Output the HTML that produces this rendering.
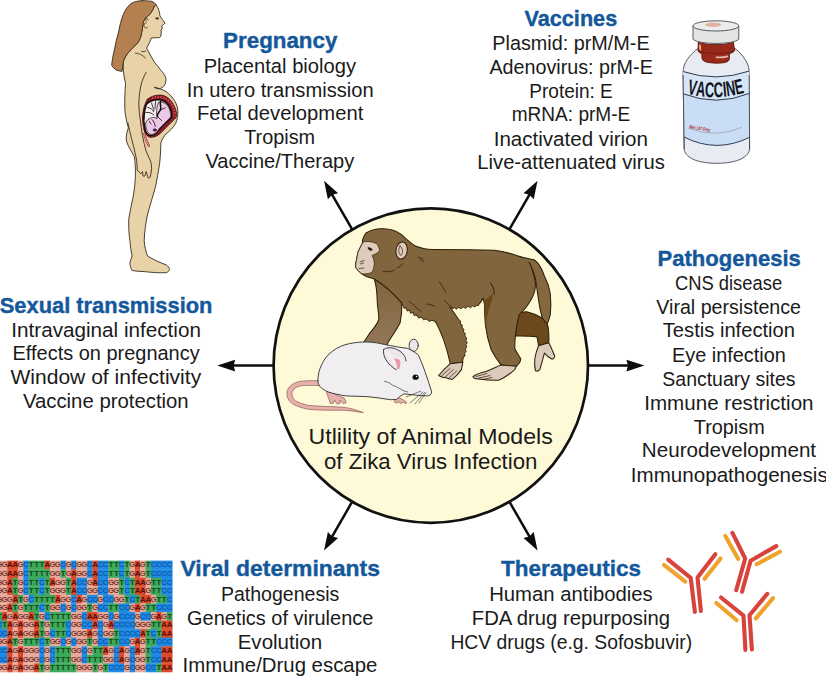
<!DOCTYPE html>
<html><head><meta charset="utf-8"><title>Utility of Animal Models of Zika Virus Infection</title>
<style>
html,body{margin:0;padding:0;background:#fff;}
body{width:826px;height:678px;overflow:hidden;font-family:"Liberation Sans",sans-serif;}
svg{display:block;}
svg text{font-family:"Liberation Sans",sans-serif;}
</style></head><body>
<svg width="826" height="678" viewBox="0 0 826 678">
<rect width="826" height="678" fill="#ffffff"/>
<!-- arrows -->
<g transform="translate(430.8 365.6) rotate(0)"><line x1="157.2" y1="0" x2="198" y2="0" stroke="#0c0c0c" stroke-width="2.5"/><path d="M213.5 0 L195.6 -5.9 L197.2 0 L195.6 5.9 Z" fill="#0c0c0c"/></g>
<g transform="translate(430.8 365.6) rotate(60)"><line x1="157.2" y1="0" x2="198" y2="0" stroke="#0c0c0c" stroke-width="2.5"/><path d="M213.5 0 L195.6 -5.9 L197.2 0 L195.6 5.9 Z" fill="#0c0c0c"/></g>
<g transform="translate(430.8 365.6) rotate(120)"><line x1="157.2" y1="0" x2="198" y2="0" stroke="#0c0c0c" stroke-width="2.5"/><path d="M213.5 0 L195.6 -5.9 L197.2 0 L195.6 5.9 Z" fill="#0c0c0c"/></g>
<g transform="translate(430.8 365.6) rotate(180)"><line x1="157.2" y1="0" x2="198" y2="0" stroke="#0c0c0c" stroke-width="2.5"/><path d="M213.5 0 L195.6 -5.9 L197.2 0 L195.6 5.9 Z" fill="#0c0c0c"/></g>
<g transform="translate(430.8 365.6) rotate(240)"><line x1="157.2" y1="0" x2="198" y2="0" stroke="#0c0c0c" stroke-width="2.5"/><path d="M213.5 0 L195.6 -5.9 L197.2 0 L195.6 5.9 Z" fill="#0c0c0c"/></g>
<g transform="translate(430.8 365.6) rotate(300)"><line x1="157.2" y1="0" x2="198" y2="0" stroke="#0c0c0c" stroke-width="2.5"/><path d="M213.5 0 L195.6 -5.9 L197.2 0 L195.6 5.9 Z" fill="#0c0c0c"/></g>
<!-- central circle -->
<circle cx="430.8" cy="365.6" r="157.2" fill="#fef9d6" stroke="#111" stroke-width="2.7"/>
<!-- monkey -->
<defs><linearGradient id="armg" x1="0" y1="0" x2="0" y2="1"><stop offset="0" stop-color="#80653d"/><stop offset="1" stop-color="#93795a"/></linearGradient></defs>
<g stroke="#2e1f0c" stroke-width="1.05" stroke-linejoin="round" stroke-linecap="round">
<path fill="url(#armg)" d="M374.3,279 C375.5,283 376,286 376.5,289.3 C377,295 377.2,300 377.4,304.7 C378,310 379,315 378.8,319.5 C377,325 373,329 370,332.8 L360,348 L386,352 L387.7,343.1 C392,336 397,329 400.2,322.4 C401.5,316 402,310 401.7,304.7 L401.6,302.6 C395,293 386,285 374.3,279Z"/>
<path fill="#6c491c" d="M516.3,314.7 C520,312.5 523,311.5 526.7,311.8 C532,313 537,315 541.4,317.7 C545,320 547,323 548,326.5 C549,332 549,338 548.8,342.8 L538.5,345.7 C538,342 537.5,339.5 537,336.9 C530,336 523,336 516.3,336.1 L512,336 L512,316 Z"/>
<path fill="#dccabd" d="M538.5,345.7 L548.8,342.8 C551,347 553,352 554.7,356 C554.5,358 553,359.3 551.7,359 C549,357.5 546.5,355.5 544.4,353.1 C543,358.5 541.5,364 539.9,369.3 C538.5,371 536.5,371.3 535.5,370.8 C534.5,367 534.5,363 534.8,359 C535.5,354 537,349.5 538.5,345.7Z"/>
<path fill="#80653d" d="M379.5,228.8 C390,228 397,231 401.6,234.7 C406,239 410,243 414.9,245.8 C420,248 426,249.5 432.6,249.5 L470,249.8 L494.2,250.2 C505,251.5 513,254 520.8,256.9 C524,258 527.5,259.5 529.6,262.8 C530.8,264.8 531.5,266.8 531.8,268.7 C533.5,274 535.5,279 535.5,284.9 C535.5,289 534.5,293 532.6,296.7 C530.5,301 528,305 525.2,308.5 C523,311 521,313 519.3,314.7 C517.5,321 516.3,327 515.6,333.9 C515,339 514.5,344 514.9,348.7 C516.5,352.5 519,355.5 520.8,359 C520.5,362 518.5,364.5 516.3,366.3 L500.9,364.9 C497,360 494,355 491.3,350.1 C488.5,342 486.5,334 485.4,325 C484.8,317 484.5,311 484.6,305 L483.2,298.1 C481.5,301 480,303.5 478,305.5 C472,304.5 465,304.3 460,305.5 C456,306.5 453,307.5 449.6,307 C453,311 456,315 458.5,319.5 C462,326.5 464.3,334 465.2,341.2 C465,348 463.6,355 462.4,362.2 L450.3,363.7 C448.5,355.5 446.5,348 443.7,340.1 C441,333 438.5,326.5 434.9,321 C429.5,319.8 424,318.5 418.7,316.5 C412.5,313 407,309 402.4,304.7 L401.6,302.6 C393,293 384,285 374.3,279 L372.1,278.2 C368,277.5 364.5,276 361.8,273.8 C359.5,272 357.5,270 356,268 C355.5,265 355.8,262 356.6,259.8 C357,257 357.5,254.5 358,252 C359.5,249 361,246 362.5,243 L362.5,239.9 C363.5,237 364.5,235 366,233 C370,230.5 374.5,229.2 379.5,228.8Z"/>
<path fill="#80653d" stroke="#80653d" stroke-width="0.6" d="M402.6,304.9 L404,308.3 L406.2,307.8 L407,311 L409.6,310 L410.5,313.2 L413,312.3 L414.2,315.6 L416.8,314.8 L418.5,318 L421.5,317 L423.5,319.8 L426.5,318.8 L429,321.5 L432,320.2 L434.9,321.2 L436,316 L419,311 L404,301 Z"/>
<path fill="none" stroke-width="0.7" d="M402.6,304.9 L404,308.3 L406.2,307.8 L407,311 L409.6,310 L410.5,313.2 L413,312.3 L414.2,315.6 L416.8,314.8 L418.5,318 L421.5,317 L423.5,319.8 L426.5,318.8 L429,321.5 L432,320.2 L434.9,321.2"/>
<path fill="#80653d" stroke="#80653d" stroke-width="0.6" d="M449.8,306.9 L452.5,309 L454,307.2 L456.5,309.3 L458.5,307.2 L461,308.9 L463,306.8 L465.5,308.3 L468,306.2 L470.5,307.7 L472.5,305.8 L475,307 L477,305 L478.2,305.6 L479,300 L449,301 Z"/>
<path fill="none" stroke-width="0.7" d="M449.8,306.9 L452.5,309 L454,307.2 L456.5,309.3 L458.5,307.2 L461,308.9 L463,306.8 L465.5,308.3 L468,306.2 L470.5,307.7 L472.5,305.8 L475,307 L477,305 L478.2,305.6"/>
<path fill="#80653d" stroke="#80653d" stroke-width="0.6" d="M458.6,319.6 L460.6,321 L460.2,323.5 L462.3,325 L461.8,327.6 L463.8,329.2 L463.4,331.8 L465.3,333.5 L464.8,336 L466.6,338 L465.9,340.5 L467.3,342.6 L465.9,344.5 L466.8,347 L465.4,349 L466,351.5 L464.6,353.5 L465,356 L463.2,357.5 L459,356 L460,336 L456,320 Z"/>
<path fill="none" stroke-width="0.7" d="M458.6,319.6 L460.6,321 L460.2,323.5 L462.3,325 L461.8,327.6 L463.8,329.2 L463.4,331.8 L465.3,333.5 L464.8,336 L466.6,338 L465.9,340.5 L467.3,342.6 L465.9,344.5 L466.8,347 L465.4,349 L466,351.5 L464.6,353.5 L465,356 L463.2,357.5"/>
<path fill="#6c491c" stroke="none" d="M485,300 C488,297.5 491,295.5 492.8,293.5 C493,298 491,303 489.3,308 C487.5,314 486.5,320 486.3,326 L485.4,325 C484.8,317 484.5,311 484.6,305 Z"/>
<path fill="none" d="M490.5,283 C493,286 494.6,290 494.2,294.5"/>
<path fill="#85683f" stroke="none" d="M519,256.3 C525,258 530,258.8 534,259.8 C539,263 542,269 544.4,276 C547.5,282 549.5,288 550.3,293.7 C551,301 551,308 550.3,314.7 C549.5,318 548.5,321 547.3,323.6 C545,322 543.5,320 542.1,317.7 C540.5,311.5 539.2,305.5 538.5,299.6 C537.5,292.5 536.5,285.5 535.5,279 C534,273 532,267.5 529.6,262.8Z"/>
<path fill="none" d="M519,256.3 C525,258 530,258.8 534,259.8 C539,263 542,269 544.4,276 C547.5,282 549.5,288 550.3,293.7 C551,301 551,308 550.3,314.7 C549.5,318 548.5,321 547.3,323.6 C545,322 543.5,320 542.1,317.7 C540.5,311.5 539.2,305.5 538.5,299.6 C537.5,292.5 536.5,285.5 535.5,279 C534,273 532,267.5 529.6,262.8"/>
<path fill="#dccabd" d="M500.9,364.9 C496,367 491,369.5 486,371.5 C481,372.5 476.5,374 472.9,376.7 C474,378.5 476,379.2 478.5,379 C485,380 492,380.5 498.7,380.3 C505,377.5 510.5,373.5 514.9,369.3 L516.3,366.3 Z"/>
<path fill="none" stroke-width="0.7" d="M476,376.5 L487,373.5 M478.5,378.2 L490,375.5 M483,379.5 L492,377.5"/>
<path fill="#dccabd" d="M450.3,363.7 C446,367.5 442,371.5 438.6,375.5 C441,377 444,377.8 447,378 C449,379 451,379.5 452.6,379.2 C456,376.5 459,373 461.4,369.6 L462.9,362.2 Z"/>
<path fill="none" stroke-width="0.7" d="M441.5,376 L450,368.5 M445,377.2 L453.5,369.5 M449,378.2 L456.5,371"/>
<path fill="#dfcbbb" stroke-width="0.7" d="M364.5,241.6 C368.5,241 373,242 376.5,243.6 C378.5,246 379.5,248.5 379.5,251 C377.5,253 375,254.5 372.1,255.4 C373.5,258 374.3,261 374.3,264.2 C374,267 373.3,269.8 372.1,272.3 C369,273.8 365,274.2 361.8,273.8 C359.5,272 357.5,270 356,268 C355.5,265 355.8,262 356.6,259.8 C357,257 357.5,254.5 358,252 C359.5,249 361,246 362.5,243 Z"/>
<ellipse cx="401.6" cy="250.5" rx="5.6" ry="8.6" transform="rotate(8 401.6 250.5)" fill="#dfcbbb"/>
<path fill="none" stroke-width="0.7" d="M400,246 C398,250 398.5,254 401,255.5 C403,253 403.5,249 400,246Z"/>
<path fill="#2a1a0a" stroke="none" d="M367.5,247.5 C369.5,247 371.5,248 372.8,250 C371,251.3 368.8,251 367.5,247.5Z"/>
<path fill="none" stroke-width="0.7" d="M360,262 L364,260.5 M360.5,264 L363.5,263 M359,268.5 L364,268"/>
<path fill="none" stroke-width="0.8" d="M418,257 l5,2.2 M420,259.5 l4,2.5 M383.2,271.6 C388,272 392,271.5 394.2,270.1 M397,268 C399.5,267 401.5,265.5 403.1,263.5 M439.2,281.9 C441.5,285 444,288.5 445.8,292.2 M444.4,300.4 C447,303 450,306 453.2,308.5 M426.7,304 C429.5,304.2 432.5,305 434.8,306.2 M409,301.1 C413,304.5 417,308 420.8,311.4"/>
</g>
<!-- mouse -->
<g stroke="#383838" stroke-width="0.95" stroke-linejoin="round" stroke-linecap="round">
<path fill="#e8b0aa" stroke="#8a5a55" stroke-width="0.7" d="M318.5,381 C312,380.5 305,380.6 299.4,381.5 C293,383 288.3,386.5 287,391.5 C286.3,397 288.8,401.5 293,404 C298,407 304,408.5 309.1,409.3 C320,410.5 332,410.2 343.9,410.2 C350.5,410.6 357,411.6 363.3,412.6 C357,410 350.5,408.3 343.9,407.3 C332,406.5 320,406.5 309.1,405.5 C304,404.5 299,403 295.5,400.8 C292.3,398 291.3,394.5 292.3,391.5 C294,388 297.5,386.3 301,385.8 C307,385.2 313,385.3 318.8,385.6Z"/>
<ellipse cx="413.7" cy="345.3" rx="4.6" ry="6" fill="#ebe6ea"/>
<path fill="#e8b0aa" stroke="#8a5a55" stroke-width="0.7" d="M326.5,392 C328,396 329,400 330.4,403.8 L333.5,403 L334.5,400 L337,404 L340,403.5 L340,400 L343.5,403.8 L346.2,402.5 C345.5,400.5 344.8,399 343.9,397.8 C340,396.5 336,395 333,393Z"/>
<path fill="#e8b0aa" stroke="#8a5a55" stroke-width="0.7" d="M396,398.5 C395,400 394.3,401 394.3,401.9 L397,403.2 L399,401.5 L400.5,403.8 L403,402.2 L405.9,403.8 L406.5,402 C404.5,400.5 402,399 399.5,398Z"/>
<path fill="#f0eef1" d="M317.8,380.4 C318,374 319.5,369 321.6,364.9 C324,359 328,354.5 332.3,351.3 C338,347 343,345 349.7,343.6 C356,342.3 361,342 367.2,342 C374,342 379,343.3 384.6,344.5 C393,346 400,347.5 407.8,348.4 C411,350 415,352 418.5,355.2 C421,361 423.5,367 425.3,372.6 C427.5,379 430,386 431.7,392 C431.5,394.5 429.5,395.9 427.2,395.9 C420,396 412,394.5 404,393.9 C401,395.5 398.5,397.5 396.5,399.5 L390.4,399.7 C383,398.5 376,397.5 369.1,396.8 C361,396.3 353,396.2 345.9,395.9 C339.5,395 333.5,393.7 328.4,392 C324.5,390.5 321.5,388.5 319.7,386.2 C318.5,384.5 317.9,382.5 317.8,380.4Z"/>
<path fill="#eee6ea" d="M383.6,349.4 C386,347.5 390,347.3 394.3,348.4 C398.5,349.8 402,352.2 404,355.2 C405.3,357.2 406,359.3 406,361 M383.6,349.4 C383.2,353 383.9,356.2 385.6,359.1 C388,363.5 391.8,367.2 396.2,369.7"/>
<path fill="#e89aa8" stroke="none" d="M394,359 C396,358 399,359 400.3,361 C400.5,364 400,367 399.3,369.3 C398.5,369.5 397.5,369.2 397,368.8 C397.3,365.5 396.3,362 394,359Z"/>
<ellipse cx="415.6" cy="377.2" rx="3.1" ry="2.6" fill="#111" stroke="none"/><circle cx="416.6" cy="376.4" r="0.7" fill="#fff" stroke="none"/>
<path fill="none" stroke-width="0.7" d="M384.6,381.3 C388,381.8 390.5,383.5 392.5,385.2 C396,386.5 400,388.5 403,390.5 C405,391.3 406.5,391.8 407.8,392"/>
<path fill="none" stroke="#333" stroke-width="0.6" d="M423,392 L410,403 M424.5,392.5 L415,404 M426,392.5 L419,403 M421,391 L406,397"/>
</g>
<!-- woman -->
<g stroke="#3a2a1a" stroke-width="0.9" stroke-linejoin="round" stroke-linecap="round">
<path fill="#e8d2a8" d="M156.2,5 C157.5,6.8 158.5,8.6 158.9,10.6 C159.5,12.3 159.9,14 159.9,15.9 C161.6,18.4 163.4,20.8 164.9,23.2 C163.9,24.4 162.7,25.4 161.5,26.2 L162.5,27.9 L161.2,29.9 C161.3,32 161.2,34 160.9,35.8 C160.6,36.6 160.2,37.2 159.6,37.5 C157,37.9 154.3,37.9 151.6,37.8 C150.5,40.3 149.3,42.8 148.3,45 C147.6,46 147,47 146.5,48.1 C149,52.7 151.6,57.3 154.2,61.9 C156.5,64.5 158.5,67.5 160.9,70.3 C163,72.5 164.8,75 165.8,77.7 C166.3,80.5 165.8,83 164.6,85.1 C163.2,87 161.5,88.2 159.4,88.8 C157.5,88.9 155.8,88.3 154.3,87.3 C158.5,88 162.5,89.5 166.1,91.7 C169.8,94.3 172.8,97.5 174.9,101.3 C176.8,104.5 177.8,108 177.9,111.6 C177.9,115.8 177.2,119.8 175.7,123.4 C173.2,127.5 170,131 166.1,133.8 C163.8,136.5 162,139.5 160.9,142.6 C160.7,149.5 160.5,156.5 159.7,163.2 C158.5,171.5 157,179.5 155.3,187.5 C152.8,196.5 150,205.3 147.6,214.1 C145.8,223 144.5,231.8 144.2,240.6 C144.5,246 145.8,251.2 147.6,256.1 C153.5,259.8 160,262.5 166.4,265 C168,266.2 169.2,267.7 169.7,269.4 C169,271 167.8,272.2 166.4,272.7 C159,273 151.5,272.4 144.2,271.6 C140,271.5 136,271.2 132.1,270.5 C130.8,268 130,265.5 129.9,262.7 C130.5,260.5 131.3,258.3 132.1,256.1 C131,251 130.2,246 129.9,240.6 C128.8,233.5 128.5,226 128.8,218.5 C130,211 131.8,203.8 133.2,196.4 C134.5,189 135.3,181.6 135.4,174.2 C135.5,168 135.2,162 134.3,156.5 C131.5,151.5 128.2,146.8 126.5,141.1 C125.8,137 126.5,133 128.4,127.9 C126.5,121.5 125.2,115 124.8,108.7 C124.5,100 125,92 125.5,83.6 C124.5,79 123.8,74.8 123.3,70.3 L123.3,61.9 C124.5,58 126.3,54.8 128.8,52 C131.5,48.8 134.5,46 137.6,43.1 C139.8,40 140.9,36.7 141.5,33.2 C142.4,29.5 142.8,25.8 143.2,22.1 C144.8,19 147,16.5 149.8,14.4 C151.8,12 153,9.3 154.2,6.6 Z"/>
<path fill="#b5804f" d="M142.1,0.7 C137,0.9 134,1.8 131,3.6 C127,7 124.8,10.5 123.3,14.4 C121,20 119.8,25.5 118.8,31 C117,37.5 115.5,43.5 114.4,49.8 C113,55 112.2,60 111.7,65.2 C113,67.5 114.8,69.2 116.6,70.2 C118.5,70.9 120.4,71.2 122.2,71.3 C122.3,68 122.6,65 123.3,61.9 C124.5,58 126.3,54.8 128.8,52 C131.5,48.8 134.5,46 137.6,43.1 C139.8,40 140.9,36.7 141.5,33.2 C142.4,29.5 142.8,25.8 143.2,22.1 C144.8,19 147,16.5 149.8,14.4 C151.8,12 153,9.3 154.2,6.6 L155.9,4.4 C155,3 153.7,2 152,1.4 C149,0.9 146,0.7 142.1,0.7Z"/>
<path fill="none" stroke-width="0.8" d="M146.2,22.5 C144.3,22.8 143.6,24.8 144.2,26.6 C144.8,28 146.2,28.4 147.3,27.6"/>
<ellipse cx="157.2" cy="18.4" rx="1.8" ry="1.15" fill="#4a3218" stroke="none" transform="rotate(8 157.2 18.4)"/>
<path fill="none" stroke="#5a3a1c" stroke-width="0.9" d="M145.5,17.6 L148.2,19.6 M144.5,19.2 L146.6,20.8"/>
<path fill="none" stroke-width="0.8" d="M135.4,53.1 C138,53.3 140.3,54 142.1,55.3 C143.4,56.1 144.5,57 145.4,58 M141.5,51.6 L145.5,51.3"/>
<path fill="none" d="M146.1,72.5 C143.8,76.5 142,80.6 141,85.1 C139.6,91.5 138.9,98 138.8,104.3 C138.9,110 139.5,115 140.3,120 C141,125 141.7,130.5 142.4,135.5 C143.5,141 144.7,146 146,151 C147.5,154.5 149.3,158 150.6,161.3 C151.3,163.5 151.7,166 151.6,168.5 C151.4,171.5 150.8,174.5 150.1,177.3 C149.4,178 148.6,178.1 148,177.8 C147.5,175.5 146.8,173.5 146,171.6 C145.8,173 145.4,174.5 144.9,175.8 C144.3,176.3 143.6,176.3 143,175.9 C142.9,174.5 142.7,173 142.4,171.6 C141.9,172.5 141.4,173.2 140.8,173.7 C139.5,172.8 138.3,171.5 137.2,170.1 C137.2,167 137,164 136.7,161.3 C136.4,159 136,157 135.6,155.1 C134.5,149.5 133,144 131.5,138.6 C130.3,133.5 129,128 127.9,123.1"/>
<path fill="#8c1c24" stroke="#3a0c0c" stroke-width="0.8" d="M147.3,99.3 C150.5,96.5 155.5,94.8 160.5,95.1 C166.5,95.5 171.5,99.5 174.6,106.9 C176,110 176.8,113 176.5,115.4 C176.3,117 175.6,118.3 174.6,119.1 L159.6,134 C157,136.5 153,137.6 149.5,137.2 C146,136 144,131.5 143.5,127.6 C142.8,123.5 142.3,120 142.5,116.3 C143,110 144.5,104 147.3,99.3Z"/>
<path fill="none" stroke="#d8485a" stroke-width="2.2" stroke-dasharray="1.3 1.5" stroke-linecap="butt" d="M152,98 C157,96.3 163,96.6 167.5,99.6 C171.5,102.8 174,107.5 174.6,113 C174.7,114.8 174.4,116.3 173.8,117.5"/>
<path fill="#f2eeee" stroke="#120808" stroke-width="1.5" d="M146.3,104.5 C149.5,100.8 154.5,99.3 159.5,99.8 C165,100.5 168.8,104 170.6,109.5 C171.6,112.5 171.9,115 171.6,117 L158.5,130 C157,133.5 153.5,135.8 150.5,135.5 C147,134.8 145,131 144.8,127 C144.2,123.5 143.8,120 144,116.5 C144.3,112 145,108 146.3,104.5Z"/>
<path fill="#e6efc6" stroke="none" d="M144.5,119.5 L147.5,119 L148.5,125 L145.2,126.5Z"/>
<path fill="#ecc8e6" stroke="#20101a" stroke-width="0.7" d="M148.6,119.2 C151,117 154.5,117 157,118.6 C156.2,113.5 156.2,107.5 158.5,102.2 C163.5,101.2 168,104.5 169.8,110 C170.8,113.5 170.8,116.2 170.2,117.6 L159,128.8 C157.5,132.5 153.5,134.8 150.5,134.3 C147.3,133.3 145.6,128 145.7,123.2 C146.2,121.5 147.2,120.2 148.6,119.2Z"/>
<path fill="none" stroke="#120808" stroke-width="1.5" d="M160.5,101.5 C159.5,104.5 161.8,107 160.3,110 C159.3,112.3 157,113.5 157.5,116.5"/>
<path fill="none" stroke="#120808" stroke-width="0.8" d="M151.5,103 L154,110.5 M155.5,101.5 L155,108.5 M148,107.5 C150.5,108 152.5,109.3 153.5,111.5 M146,112.5 C149,112 152,113 153.8,115 M160.3,110 L165.3,107.8 M158,117 L161.5,120.5 M152,119.5 C154,121.5 155,124 155.2,126.5 M149.5,121.5 L151,124"/>
<ellipse cx="154.8" cy="130" rx="1.7" ry="1.3" fill="#4a2a5a" stroke="#20101a" stroke-width="0.5"/>
<path fill="none" stroke="#7a1c1c" stroke-width="0.7" d="M173.4,118.8 L159.3,132.6"/>
<path fill="none" stroke="#a84040" stroke-width="2.4" d="M144.2,134 C145.2,138 146.8,142 148.9,145.8"/>
<path fill="none" stroke="#f0b0b0" stroke-width="1" stroke-dasharray="0.9 1.1" d="M144.2,134 C145.2,138 146.8,142 148.9,145.8"/>
</g>
<!-- vaccine vial -->
<g stroke="#4a4a50" stroke-width="0.9" stroke-linejoin="round">
<path fill="#e9ebf2" d="M698,48.4 C692,53 686.8,59 684.3,65 C683.4,68 683,71 683.1,75 L684.2,149 C684.8,156.5 695,163.3 716.6,163.3 C738.5,163.3 749,156.5 749.6,149 L749.2,75 C749.3,71 748.9,68 748,65 C745.5,59 741,53 735.1,48.4 Z"/>
<path fill="#c9def4" stroke="none" d="M683.3,71.6 Q716,82.4 749.2,71.1 L749.6,137.3 Q716.6,153.6 684,137Z"/>
<path fill="#d6e6f7" stroke="none" d="M683.3,71.6 Q716,82.4 749.2,71.1 L749.3,93.4 Q716.5,106.7 683.6,93.9Z"/>
<path fill="none" stroke="#2e3a50" stroke-width="1" d="M683.3,71.6 Q716,82.4 749.2,71.1 M683.6,93.9 Q716.5,106.7 749.3,93.4 M684,137 Q716.6,153.6 749.6,137.3"/>
<path fill="none" stroke="#9a8a98" stroke-width="0.6" d="M688.4,128.4 Q716,138.6 741.9,127.4"/>
<path fill="none" d="M683.1,75 L684.2,149 M749.2,75 L749.6,149"/>
<path fill="#98291a" stroke="#5a140c" d="M698.3,42 L698,50.5 C698.5,52.3 700,53.2 701.8,53.6 L702,58.5 C702.5,60.8 705,62 709,62.6 C714,63.3 720,63.3 724.5,62.6 C727.5,62 729.3,60.8 729.4,58.5 L729.4,53.6 C732,53 734,52 734.7,50.5 L733.3,42 C726,45.5 706,45.5 698.3,42Z"/>
<path fill="none" stroke="#6a1a10" stroke-width="0.8" d="M698.2,50.6 C706,54.6 727,54.6 734.6,50.4"/>
<path fill="none" stroke="#e8b4a4" stroke-width="1.8" stroke-linecap="round" d="M700,45.5 L700.3,49.5 M716.5,57.3 C720,57.6 724.5,57.2 727.5,56.3"/>
<path fill="#e3e3e3" d="M693,26 L693,39.2 C698,44.8 734,44.8 738.8,39.2 L738.8,26 Z"/>
<ellipse cx="715.9" cy="25.9" rx="22.9" ry="5.1" fill="#ececea"/>
<ellipse cx="713.2" cy="24.7" rx="8" ry="2.2" fill="#e0b0a0" stroke="none"/>
</g>
<g font-size="21.4" font-weight="700" fill="#13151e" text-anchor="middle">
<text transform="translate(691.28 94.71) rotate(10.0) scale(0.6 1)">V</text>
<text transform="translate(700.20 96.31) rotate(6.1) scale(0.6 1)">A</text>
<text transform="translate(709.47 97.13) rotate(2.0) scale(0.6 1)">C</text>
<text transform="translate(718.74 97.12) rotate(-2.2) scale(0.6 1)">C</text>
<text transform="translate(725.16 96.62) rotate(-5.0) scale(0.6 1)">I</text>
<text transform="translate(731.58 95.71) rotate(-7.8) scale(0.6 1)">N</text>
<text transform="translate(740.50 93.78) rotate(-11.7) scale(0.6 1)">E</text>
</g>
<text x="689" y="128.3" textLength="21" lengthAdjust="spacingAndGlyphs" font-size="4.8" font-weight="700" font-style="italic" fill="#b03040" transform="rotate(9 689 128)">Mes 187.5mg</text>
<!-- DNA alignment -->
<g font-family="Liberation Mono, monospace" font-size="7.9" font-weight="700" text-anchor="middle">
<rect x="-3.36" y="560.60" width="10.94" height="8.87" fill="#e9a99a"/>
<rect x="7.28" y="560.60" width="10.94" height="8.87" fill="#dc4a2c"/>
<rect x="17.92" y="560.60" width="5.62" height="8.87" fill="#e9a99a"/>
<rect x="23.24" y="560.60" width="5.62" height="8.87" fill="#1f8ae6"/>
<rect x="28.56" y="560.60" width="16.26" height="8.87" fill="#3fa95a"/>
<rect x="44.52" y="560.60" width="5.62" height="8.87" fill="#dc4a2c"/>
<rect x="49.84" y="560.60" width="10.94" height="8.87" fill="#e9a99a"/>
<rect x="60.48" y="560.60" width="5.62" height="8.87" fill="#1f8ae6"/>
<rect x="65.80" y="560.60" width="5.62" height="8.87" fill="#e9a99a"/>
<rect x="71.12" y="560.60" width="5.62" height="8.87" fill="#1f8ae6"/>
<rect x="76.44" y="560.60" width="10.94" height="8.87" fill="#e9a99a"/>
<rect x="87.08" y="560.60" width="5.62" height="8.87" fill="#1f8ae6"/>
<rect x="92.40" y="560.60" width="5.62" height="8.87" fill="#dc4a2c"/>
<rect x="97.72" y="560.60" width="10.94" height="8.87" fill="#1f8ae6"/>
<rect x="108.36" y="560.60" width="10.94" height="8.87" fill="#3fa95a"/>
<rect x="119.00" y="560.60" width="5.62" height="8.87" fill="#1f8ae6"/>
<rect x="124.32" y="560.60" width="5.62" height="8.87" fill="#3fa95a"/>
<rect x="129.64" y="560.60" width="5.62" height="8.87" fill="#e9a99a"/>
<rect x="134.96" y="560.60" width="5.62" height="8.87" fill="#dc4a2c"/>
<rect x="140.28" y="560.60" width="5.62" height="8.87" fill="#e9a99a"/>
<rect x="145.60" y="560.60" width="5.62" height="8.87" fill="#3fa95a"/>
<rect x="150.92" y="560.60" width="21.58" height="8.87" fill="#1f8ae6"/>
<rect x="-3.36" y="569.17" width="10.94" height="8.87" fill="#e9a99a"/>
<rect x="7.28" y="569.17" width="10.94" height="8.87" fill="#dc4a2c"/>
<rect x="17.92" y="569.17" width="5.62" height="8.87" fill="#e9a99a"/>
<rect x="23.24" y="569.17" width="5.62" height="8.87" fill="#1f8ae6"/>
<rect x="28.56" y="569.17" width="21.58" height="8.87" fill="#3fa95a"/>
<rect x="49.84" y="569.17" width="10.94" height="8.87" fill="#e9a99a"/>
<rect x="60.48" y="569.17" width="5.62" height="8.87" fill="#3fa95a"/>
<rect x="65.80" y="569.17" width="5.62" height="8.87" fill="#e9a99a"/>
<rect x="71.12" y="569.17" width="5.62" height="8.87" fill="#dc4a2c"/>
<rect x="76.44" y="569.17" width="10.94" height="8.87" fill="#e9a99a"/>
<rect x="87.08" y="569.17" width="5.62" height="8.87" fill="#1f8ae6"/>
<rect x="92.40" y="569.17" width="5.62" height="8.87" fill="#dc4a2c"/>
<rect x="97.72" y="569.17" width="10.94" height="8.87" fill="#1f8ae6"/>
<rect x="108.36" y="569.17" width="10.94" height="8.87" fill="#3fa95a"/>
<rect x="119.00" y="569.17" width="5.62" height="8.87" fill="#1f8ae6"/>
<rect x="124.32" y="569.17" width="5.62" height="8.87" fill="#3fa95a"/>
<rect x="129.64" y="569.17" width="5.62" height="8.87" fill="#e9a99a"/>
<rect x="134.96" y="569.17" width="5.62" height="8.87" fill="#dc4a2c"/>
<rect x="140.28" y="569.17" width="5.62" height="8.87" fill="#e9a99a"/>
<rect x="145.60" y="569.17" width="5.62" height="8.87" fill="#3fa95a"/>
<rect x="150.92" y="569.17" width="21.58" height="8.87" fill="#1f8ae6"/>
<rect x="-3.36" y="577.74" width="10.94" height="8.87" fill="#e9a99a"/>
<rect x="7.28" y="577.74" width="5.62" height="8.87" fill="#dc4a2c"/>
<rect x="12.60" y="577.74" width="5.62" height="8.87" fill="#3fa95a"/>
<rect x="17.92" y="577.74" width="5.62" height="8.87" fill="#e9a99a"/>
<rect x="23.24" y="577.74" width="5.62" height="8.87" fill="#1f8ae6"/>
<rect x="28.56" y="577.74" width="10.94" height="8.87" fill="#3fa95a"/>
<rect x="39.20" y="577.74" width="5.62" height="8.87" fill="#1f8ae6"/>
<rect x="44.52" y="577.74" width="5.62" height="8.87" fill="#3fa95a"/>
<rect x="49.84" y="577.74" width="5.62" height="8.87" fill="#dc4a2c"/>
<rect x="55.16" y="577.74" width="10.94" height="8.87" fill="#e9a99a"/>
<rect x="65.80" y="577.74" width="5.62" height="8.87" fill="#3fa95a"/>
<rect x="71.12" y="577.74" width="5.62" height="8.87" fill="#dc4a2c"/>
<rect x="76.44" y="577.74" width="10.94" height="8.87" fill="#1f8ae6"/>
<rect x="87.08" y="577.74" width="5.62" height="8.87" fill="#e9a99a"/>
<rect x="92.40" y="577.74" width="5.62" height="8.87" fill="#dc4a2c"/>
<rect x="97.72" y="577.74" width="10.94" height="8.87" fill="#1f8ae6"/>
<rect x="108.36" y="577.74" width="10.94" height="8.87" fill="#e9a99a"/>
<rect x="119.00" y="577.74" width="5.62" height="8.87" fill="#3fa95a"/>
<rect x="124.32" y="577.74" width="5.62" height="8.87" fill="#1f8ae6"/>
<rect x="129.64" y="577.74" width="5.62" height="8.87" fill="#3fa95a"/>
<rect x="134.96" y="577.74" width="10.94" height="8.87" fill="#dc4a2c"/>
<rect x="145.60" y="577.74" width="5.62" height="8.87" fill="#e9a99a"/>
<rect x="150.92" y="577.74" width="10.94" height="8.87" fill="#3fa95a"/>
<rect x="161.56" y="577.74" width="10.94" height="8.87" fill="#1f8ae6"/>
<rect x="-3.36" y="586.31" width="10.94" height="8.87" fill="#e9a99a"/>
<rect x="7.28" y="586.31" width="5.62" height="8.87" fill="#dc4a2c"/>
<rect x="12.60" y="586.31" width="5.62" height="8.87" fill="#3fa95a"/>
<rect x="17.92" y="586.31" width="5.62" height="8.87" fill="#e9a99a"/>
<rect x="23.24" y="586.31" width="5.62" height="8.87" fill="#1f8ae6"/>
<rect x="28.56" y="586.31" width="10.94" height="8.87" fill="#3fa95a"/>
<rect x="39.20" y="586.31" width="5.62" height="8.87" fill="#1f8ae6"/>
<rect x="44.52" y="586.31" width="5.62" height="8.87" fill="#3fa95a"/>
<rect x="49.84" y="586.31" width="16.26" height="8.87" fill="#e9a99a"/>
<rect x="65.80" y="586.31" width="5.62" height="8.87" fill="#3fa95a"/>
<rect x="71.12" y="586.31" width="5.62" height="8.87" fill="#dc4a2c"/>
<rect x="76.44" y="586.31" width="10.94" height="8.87" fill="#1f8ae6"/>
<rect x="87.08" y="586.31" width="10.94" height="8.87" fill="#e9a99a"/>
<rect x="97.72" y="586.31" width="10.94" height="8.87" fill="#1f8ae6"/>
<rect x="108.36" y="586.31" width="10.94" height="8.87" fill="#e9a99a"/>
<rect x="119.00" y="586.31" width="5.62" height="8.87" fill="#3fa95a"/>
<rect x="124.32" y="586.31" width="5.62" height="8.87" fill="#1f8ae6"/>
<rect x="129.64" y="586.31" width="5.62" height="8.87" fill="#3fa95a"/>
<rect x="134.96" y="586.31" width="10.94" height="8.87" fill="#dc4a2c"/>
<rect x="145.60" y="586.31" width="5.62" height="8.87" fill="#e9a99a"/>
<rect x="150.92" y="586.31" width="10.94" height="8.87" fill="#3fa95a"/>
<rect x="161.56" y="586.31" width="10.94" height="8.87" fill="#1f8ae6"/>
<rect x="-3.36" y="594.88" width="16.26" height="8.87" fill="#e9a99a"/>
<rect x="12.60" y="594.88" width="5.62" height="8.87" fill="#dc4a2c"/>
<rect x="17.92" y="594.88" width="5.62" height="8.87" fill="#3fa95a"/>
<rect x="23.24" y="594.88" width="5.62" height="8.87" fill="#e9a99a"/>
<rect x="28.56" y="594.88" width="5.62" height="8.87" fill="#1f8ae6"/>
<rect x="33.88" y="594.88" width="21.58" height="8.87" fill="#3fa95a"/>
<rect x="55.16" y="594.88" width="5.62" height="8.87" fill="#dc4a2c"/>
<rect x="60.48" y="594.88" width="10.94" height="8.87" fill="#e9a99a"/>
<rect x="71.12" y="594.88" width="5.62" height="8.87" fill="#1f8ae6"/>
<rect x="76.44" y="594.88" width="5.62" height="8.87" fill="#dc4a2c"/>
<rect x="81.76" y="594.88" width="5.62" height="8.87" fill="#e9a99a"/>
<rect x="87.08" y="594.88" width="10.94" height="8.87" fill="#1f8ae6"/>
<rect x="97.72" y="594.88" width="5.62" height="8.87" fill="#e9a99a"/>
<rect x="103.04" y="594.88" width="10.94" height="8.87" fill="#1f8ae6"/>
<rect x="113.68" y="594.88" width="10.94" height="8.87" fill="#e9a99a"/>
<rect x="124.32" y="594.88" width="5.62" height="8.87" fill="#3fa95a"/>
<rect x="129.64" y="594.88" width="5.62" height="8.87" fill="#1f8ae6"/>
<rect x="134.96" y="594.88" width="5.62" height="8.87" fill="#3fa95a"/>
<rect x="140.28" y="594.88" width="10.94" height="8.87" fill="#dc4a2c"/>
<rect x="150.92" y="594.88" width="5.62" height="8.87" fill="#e9a99a"/>
<rect x="156.24" y="594.88" width="10.94" height="8.87" fill="#3fa95a"/>
<rect x="166.88" y="594.88" width="5.62" height="8.87" fill="#1f8ae6"/>
<rect x="-3.36" y="603.45" width="10.94" height="8.87" fill="#e9a99a"/>
<rect x="7.28" y="603.45" width="5.62" height="8.87" fill="#dc4a2c"/>
<rect x="12.60" y="603.45" width="5.62" height="8.87" fill="#3fa95a"/>
<rect x="17.92" y="603.45" width="5.62" height="8.87" fill="#e9a99a"/>
<rect x="23.24" y="603.45" width="16.26" height="8.87" fill="#3fa95a"/>
<rect x="39.20" y="603.45" width="5.62" height="8.87" fill="#1f8ae6"/>
<rect x="44.52" y="603.45" width="5.62" height="8.87" fill="#3fa95a"/>
<rect x="49.84" y="603.45" width="10.94" height="8.87" fill="#e9a99a"/>
<rect x="60.48" y="603.45" width="5.62" height="8.87" fill="#1f8ae6"/>
<rect x="65.80" y="603.45" width="5.62" height="8.87" fill="#e9a99a"/>
<rect x="71.12" y="603.45" width="5.62" height="8.87" fill="#1f8ae6"/>
<rect x="76.44" y="603.45" width="10.94" height="8.87" fill="#e9a99a"/>
<rect x="87.08" y="603.45" width="5.62" height="8.87" fill="#3fa95a"/>
<rect x="92.40" y="603.45" width="5.62" height="8.87" fill="#e9a99a"/>
<rect x="97.72" y="603.45" width="10.94" height="8.87" fill="#1f8ae6"/>
<rect x="108.36" y="603.45" width="10.94" height="8.87" fill="#3fa95a"/>
<rect x="119.00" y="603.45" width="10.94" height="8.87" fill="#1f8ae6"/>
<rect x="129.64" y="603.45" width="5.62" height="8.87" fill="#e9a99a"/>
<rect x="134.96" y="603.45" width="5.62" height="8.87" fill="#dc4a2c"/>
<rect x="140.28" y="603.45" width="5.62" height="8.87" fill="#e9a99a"/>
<rect x="145.60" y="603.45" width="10.94" height="8.87" fill="#3fa95a"/>
<rect x="156.24" y="603.45" width="16.26" height="8.87" fill="#1f8ae6"/>
<rect x="-3.36" y="612.02" width="5.62" height="8.87" fill="#3fa95a"/>
<rect x="1.96" y="612.02" width="5.62" height="8.87" fill="#dc4a2c"/>
<rect x="7.28" y="612.02" width="5.62" height="8.87" fill="#e9a99a"/>
<rect x="12.60" y="612.02" width="5.62" height="8.87" fill="#dc4a2c"/>
<rect x="17.92" y="612.02" width="10.94" height="8.87" fill="#e9a99a"/>
<rect x="28.56" y="612.02" width="5.62" height="8.87" fill="#dc4a2c"/>
<rect x="33.88" y="612.02" width="5.62" height="8.87" fill="#3fa95a"/>
<rect x="39.20" y="612.02" width="5.62" height="8.87" fill="#e9a99a"/>
<rect x="44.52" y="612.02" width="5.62" height="8.87" fill="#1f8ae6"/>
<rect x="49.84" y="612.02" width="21.58" height="8.87" fill="#3fa95a"/>
<rect x="71.12" y="612.02" width="10.94" height="8.87" fill="#e9a99a"/>
<rect x="81.76" y="612.02" width="5.62" height="8.87" fill="#1f8ae6"/>
<rect x="87.08" y="612.02" width="10.94" height="8.87" fill="#dc4a2c"/>
<rect x="97.72" y="612.02" width="10.94" height="8.87" fill="#e9a99a"/>
<rect x="108.36" y="612.02" width="5.62" height="8.87" fill="#1f8ae6"/>
<rect x="113.68" y="612.02" width="5.62" height="8.87" fill="#e9a99a"/>
<rect x="119.00" y="612.02" width="16.26" height="8.87" fill="#1f8ae6"/>
<rect x="134.96" y="612.02" width="5.62" height="8.87" fill="#e9a99a"/>
<rect x="140.28" y="612.02" width="10.94" height="8.87" fill="#1f8ae6"/>
<rect x="150.92" y="612.02" width="5.62" height="8.87" fill="#e9a99a"/>
<rect x="156.24" y="612.02" width="5.62" height="8.87" fill="#dc4a2c"/>
<rect x="161.56" y="612.02" width="5.62" height="8.87" fill="#e9a99a"/>
<rect x="166.88" y="612.02" width="5.62" height="8.87" fill="#3fa95a"/>
<rect x="-3.36" y="620.58" width="5.62" height="8.87" fill="#1f8ae6"/>
<rect x="1.96" y="620.58" width="5.62" height="8.87" fill="#3fa95a"/>
<rect x="7.28" y="620.58" width="5.62" height="8.87" fill="#dc4a2c"/>
<rect x="12.60" y="620.58" width="5.62" height="8.87" fill="#e9a99a"/>
<rect x="17.92" y="620.58" width="5.62" height="8.87" fill="#dc4a2c"/>
<rect x="23.24" y="620.58" width="10.94" height="8.87" fill="#e9a99a"/>
<rect x="33.88" y="620.58" width="5.62" height="8.87" fill="#dc4a2c"/>
<rect x="39.20" y="620.58" width="5.62" height="8.87" fill="#3fa95a"/>
<rect x="44.52" y="620.58" width="5.62" height="8.87" fill="#e9a99a"/>
<rect x="49.84" y="620.58" width="16.26" height="8.87" fill="#3fa95a"/>
<rect x="65.80" y="620.58" width="5.62" height="8.87" fill="#1f8ae6"/>
<rect x="71.12" y="620.58" width="10.94" height="8.87" fill="#e9a99a"/>
<rect x="81.76" y="620.58" width="10.94" height="8.87" fill="#1f8ae6"/>
<rect x="92.40" y="620.58" width="5.62" height="8.87" fill="#dc4a2c"/>
<rect x="97.72" y="620.58" width="5.62" height="8.87" fill="#1f8ae6"/>
<rect x="103.04" y="620.58" width="5.62" height="8.87" fill="#e9a99a"/>
<rect x="108.36" y="620.58" width="5.62" height="8.87" fill="#dc4a2c"/>
<rect x="113.68" y="620.58" width="21.58" height="8.87" fill="#1f8ae6"/>
<rect x="134.96" y="620.58" width="16.26" height="8.87" fill="#e9a99a"/>
<rect x="150.92" y="620.58" width="10.94" height="8.87" fill="#3fa95a"/>
<rect x="161.56" y="620.58" width="10.94" height="8.87" fill="#dc4a2c"/>
<rect x="-3.36" y="629.15" width="10.94" height="8.87" fill="#1f8ae6"/>
<rect x="7.28" y="629.15" width="5.62" height="8.87" fill="#dc4a2c"/>
<rect x="12.60" y="629.15" width="5.62" height="8.87" fill="#e9a99a"/>
<rect x="17.92" y="629.15" width="5.62" height="8.87" fill="#dc4a2c"/>
<rect x="23.24" y="629.15" width="10.94" height="8.87" fill="#e9a99a"/>
<rect x="33.88" y="629.15" width="5.62" height="8.87" fill="#dc4a2c"/>
<rect x="39.20" y="629.15" width="5.62" height="8.87" fill="#3fa95a"/>
<rect x="44.52" y="629.15" width="5.62" height="8.87" fill="#e9a99a"/>
<rect x="49.84" y="629.15" width="5.62" height="8.87" fill="#1f8ae6"/>
<rect x="55.16" y="629.15" width="10.94" height="8.87" fill="#3fa95a"/>
<rect x="65.80" y="629.15" width="5.62" height="8.87" fill="#1f8ae6"/>
<rect x="71.12" y="629.15" width="16.26" height="8.87" fill="#e9a99a"/>
<rect x="87.08" y="629.15" width="5.62" height="8.87" fill="#dc4a2c"/>
<rect x="92.40" y="629.15" width="5.62" height="8.87" fill="#e9a99a"/>
<rect x="97.72" y="629.15" width="5.62" height="8.87" fill="#1f8ae6"/>
<rect x="103.04" y="629.15" width="10.94" height="8.87" fill="#e9a99a"/>
<rect x="113.68" y="629.15" width="5.62" height="8.87" fill="#3fa95a"/>
<rect x="119.00" y="629.15" width="21.58" height="8.87" fill="#1f8ae6"/>
<rect x="140.28" y="629.15" width="5.62" height="8.87" fill="#dc4a2c"/>
<rect x="145.60" y="629.15" width="5.62" height="8.87" fill="#3fa95a"/>
<rect x="150.92" y="629.15" width="5.62" height="8.87" fill="#1f8ae6"/>
<rect x="156.24" y="629.15" width="5.62" height="8.87" fill="#3fa95a"/>
<rect x="161.56" y="629.15" width="10.94" height="8.87" fill="#dc4a2c"/>
<rect x="-3.36" y="637.72" width="10.94" height="8.87" fill="#e9a99a"/>
<rect x="7.28" y="637.72" width="5.62" height="8.87" fill="#dc4a2c"/>
<rect x="12.60" y="637.72" width="5.62" height="8.87" fill="#3fa95a"/>
<rect x="17.92" y="637.72" width="5.62" height="8.87" fill="#e9a99a"/>
<rect x="23.24" y="637.72" width="16.26" height="8.87" fill="#3fa95a"/>
<rect x="39.20" y="637.72" width="5.62" height="8.87" fill="#1f8ae6"/>
<rect x="44.52" y="637.72" width="5.62" height="8.87" fill="#3fa95a"/>
<rect x="49.84" y="637.72" width="10.94" height="8.87" fill="#e9a99a"/>
<rect x="60.48" y="637.72" width="5.62" height="8.87" fill="#1f8ae6"/>
<rect x="65.80" y="637.72" width="5.62" height="8.87" fill="#e9a99a"/>
<rect x="71.12" y="637.72" width="5.62" height="8.87" fill="#1f8ae6"/>
<rect x="76.44" y="637.72" width="10.94" height="8.87" fill="#e9a99a"/>
<rect x="87.08" y="637.72" width="5.62" height="8.87" fill="#3fa95a"/>
<rect x="92.40" y="637.72" width="5.62" height="8.87" fill="#e9a99a"/>
<rect x="97.72" y="637.72" width="10.94" height="8.87" fill="#1f8ae6"/>
<rect x="108.36" y="637.72" width="10.94" height="8.87" fill="#3fa95a"/>
<rect x="119.00" y="637.72" width="10.94" height="8.87" fill="#1f8ae6"/>
<rect x="129.64" y="637.72" width="5.62" height="8.87" fill="#e9a99a"/>
<rect x="134.96" y="637.72" width="5.62" height="8.87" fill="#dc4a2c"/>
<rect x="140.28" y="637.72" width="5.62" height="8.87" fill="#e9a99a"/>
<rect x="145.60" y="637.72" width="10.94" height="8.87" fill="#3fa95a"/>
<rect x="156.24" y="637.72" width="16.26" height="8.87" fill="#1f8ae6"/>
<rect x="-3.36" y="646.29" width="10.94" height="8.87" fill="#1f8ae6"/>
<rect x="7.28" y="646.29" width="5.62" height="8.87" fill="#dc4a2c"/>
<rect x="12.60" y="646.29" width="5.62" height="8.87" fill="#e9a99a"/>
<rect x="17.92" y="646.29" width="5.62" height="8.87" fill="#dc4a2c"/>
<rect x="23.24" y="646.29" width="16.26" height="8.87" fill="#e9a99a"/>
<rect x="39.20" y="646.29" width="5.62" height="8.87" fill="#1f8ae6"/>
<rect x="44.52" y="646.29" width="5.62" height="8.87" fill="#e9a99a"/>
<rect x="49.84" y="646.29" width="5.62" height="8.87" fill="#1f8ae6"/>
<rect x="55.16" y="646.29" width="16.26" height="8.87" fill="#3fa95a"/>
<rect x="71.12" y="646.29" width="10.94" height="8.87" fill="#e9a99a"/>
<rect x="81.76" y="646.29" width="5.62" height="8.87" fill="#1f8ae6"/>
<rect x="87.08" y="646.29" width="5.62" height="8.87" fill="#e9a99a"/>
<rect x="92.40" y="646.29" width="10.94" height="8.87" fill="#3fa95a"/>
<rect x="103.04" y="646.29" width="5.62" height="8.87" fill="#dc4a2c"/>
<rect x="108.36" y="646.29" width="5.62" height="8.87" fill="#e9a99a"/>
<rect x="113.68" y="646.29" width="5.62" height="8.87" fill="#1f8ae6"/>
<rect x="119.00" y="646.29" width="5.62" height="8.87" fill="#dc4a2c"/>
<rect x="124.32" y="646.29" width="5.62" height="8.87" fill="#e9a99a"/>
<rect x="129.64" y="646.29" width="5.62" height="8.87" fill="#1f8ae6"/>
<rect x="134.96" y="646.29" width="5.62" height="8.87" fill="#dc4a2c"/>
<rect x="140.28" y="646.29" width="5.62" height="8.87" fill="#e9a99a"/>
<rect x="145.60" y="646.29" width="5.62" height="8.87" fill="#3fa95a"/>
<rect x="150.92" y="646.29" width="10.94" height="8.87" fill="#1f8ae6"/>
<rect x="161.56" y="646.29" width="10.94" height="8.87" fill="#dc4a2c"/>
<rect x="-3.36" y="654.86" width="10.94" height="8.87" fill="#1f8ae6"/>
<rect x="7.28" y="654.86" width="5.62" height="8.87" fill="#dc4a2c"/>
<rect x="12.60" y="654.86" width="5.62" height="8.87" fill="#e9a99a"/>
<rect x="17.92" y="654.86" width="5.62" height="8.87" fill="#dc4a2c"/>
<rect x="23.24" y="654.86" width="16.26" height="8.87" fill="#e9a99a"/>
<rect x="39.20" y="654.86" width="5.62" height="8.87" fill="#1f8ae6"/>
<rect x="44.52" y="654.86" width="5.62" height="8.87" fill="#e9a99a"/>
<rect x="49.84" y="654.86" width="5.62" height="8.87" fill="#1f8ae6"/>
<rect x="55.16" y="654.86" width="16.26" height="8.87" fill="#3fa95a"/>
<rect x="71.12" y="654.86" width="10.94" height="8.87" fill="#e9a99a"/>
<rect x="81.76" y="654.86" width="5.62" height="8.87" fill="#1f8ae6"/>
<rect x="87.08" y="654.86" width="16.26" height="8.87" fill="#3fa95a"/>
<rect x="103.04" y="654.86" width="10.94" height="8.87" fill="#e9a99a"/>
<rect x="113.68" y="654.86" width="5.62" height="8.87" fill="#1f8ae6"/>
<rect x="119.00" y="654.86" width="5.62" height="8.87" fill="#dc4a2c"/>
<rect x="124.32" y="654.86" width="5.62" height="8.87" fill="#e9a99a"/>
<rect x="129.64" y="654.86" width="5.62" height="8.87" fill="#1f8ae6"/>
<rect x="134.96" y="654.86" width="10.94" height="8.87" fill="#e9a99a"/>
<rect x="145.60" y="654.86" width="5.62" height="8.87" fill="#3fa95a"/>
<rect x="150.92" y="654.86" width="10.94" height="8.87" fill="#1f8ae6"/>
<rect x="161.56" y="654.86" width="10.94" height="8.87" fill="#dc4a2c"/>
<rect x="-3.36" y="663.43" width="10.94" height="8.87" fill="#e9a99a"/>
<rect x="7.28" y="663.43" width="5.62" height="8.87" fill="#dc4a2c"/>
<rect x="12.60" y="663.43" width="5.62" height="8.87" fill="#e9a99a"/>
<rect x="17.92" y="663.43" width="5.62" height="8.87" fill="#dc4a2c"/>
<rect x="23.24" y="663.43" width="10.94" height="8.87" fill="#e9a99a"/>
<rect x="33.88" y="663.43" width="5.62" height="8.87" fill="#dc4a2c"/>
<rect x="39.20" y="663.43" width="5.62" height="8.87" fill="#3fa95a"/>
<rect x="44.52" y="663.43" width="5.62" height="8.87" fill="#e9a99a"/>
<rect x="49.84" y="663.43" width="26.90" height="8.87" fill="#3fa95a"/>
<rect x="76.44" y="663.43" width="16.26" height="8.87" fill="#e9a99a"/>
<rect x="92.40" y="663.43" width="5.62" height="8.87" fill="#3fa95a"/>
<rect x="97.72" y="663.43" width="5.62" height="8.87" fill="#e9a99a"/>
<rect x="103.04" y="663.43" width="5.62" height="8.87" fill="#3fa95a"/>
<rect x="108.36" y="663.43" width="16.26" height="8.87" fill="#1f8ae6"/>
<rect x="124.32" y="663.43" width="5.62" height="8.87" fill="#e9a99a"/>
<rect x="129.64" y="663.43" width="5.62" height="8.87" fill="#1f8ae6"/>
<rect x="134.96" y="663.43" width="10.94" height="8.87" fill="#e9a99a"/>
<rect x="145.60" y="663.43" width="10.94" height="8.87" fill="#1f8ae6"/>
<rect x="156.24" y="663.43" width="5.62" height="8.87" fill="#3fa95a"/>
<rect x="161.56" y="663.43" width="10.94" height="8.87" fill="#dc4a2c"/>
<text x="-0.70" y="567.37" fill="#7a3a30">G</text>
<text x="4.62" y="567.37" fill="#7a3a30">G</text>
<text x="9.94" y="567.37" fill="#5a0f08">A</text>
<text x="15.26" y="567.37" fill="#5a0f08">A</text>
<text x="20.58" y="567.37" fill="#7a3a30">G</text>
<text x="25.90" y="567.37" fill="#0f5cab">C</text>
<text x="31.22" y="567.37" fill="#0f4a20">T</text>
<text x="36.54" y="567.37" fill="#0f4a20">T</text>
<text x="41.86" y="567.37" fill="#0f4a20">T</text>
<text x="47.18" y="567.37" fill="#5a0f08">A</text>
<text x="52.50" y="567.37" fill="#7a3a30">G</text>
<text x="57.82" y="567.37" fill="#7a3a30">G</text>
<text x="63.14" y="567.37" fill="#0f5cab">C</text>
<text x="68.46" y="567.37" fill="#7a3a30">G</text>
<text x="73.78" y="567.37" fill="#0f5cab">C</text>
<text x="79.10" y="567.37" fill="#7a3a30">G</text>
<text x="84.42" y="567.37" fill="#7a3a30">G</text>
<text x="89.74" y="567.37" fill="#0f5cab">C</text>
<text x="95.06" y="567.37" fill="#5a0f08">A</text>
<text x="100.38" y="567.37" fill="#0f5cab">C</text>
<text x="105.70" y="567.37" fill="#0f5cab">C</text>
<text x="111.02" y="567.37" fill="#0f4a20">T</text>
<text x="116.34" y="567.37" fill="#0f4a20">T</text>
<text x="121.66" y="567.37" fill="#0f5cab">C</text>
<text x="126.98" y="567.37" fill="#0f4a20">T</text>
<text x="132.30" y="567.37" fill="#7a3a30">G</text>
<text x="137.62" y="567.37" fill="#5a0f08">A</text>
<text x="142.94" y="567.37" fill="#7a3a30">G</text>
<text x="148.26" y="567.37" fill="#0f4a20">T</text>
<text x="153.58" y="567.37" fill="#0f5cab">C</text>
<text x="158.90" y="567.37" fill="#0f5cab">C</text>
<text x="164.22" y="567.37" fill="#0f5cab">C</text>
<text x="169.54" y="567.37" fill="#0f5cab">C</text>
<text x="-0.70" y="575.94" fill="#7a3a30">G</text>
<text x="4.62" y="575.94" fill="#7a3a30">G</text>
<text x="9.94" y="575.94" fill="#5a0f08">A</text>
<text x="15.26" y="575.94" fill="#5a0f08">A</text>
<text x="20.58" y="575.94" fill="#7a3a30">G</text>
<text x="25.90" y="575.94" fill="#0f5cab">C</text>
<text x="31.22" y="575.94" fill="#0f4a20">T</text>
<text x="36.54" y="575.94" fill="#0f4a20">T</text>
<text x="41.86" y="575.94" fill="#0f4a20">T</text>
<text x="47.18" y="575.94" fill="#0f4a20">T</text>
<text x="52.50" y="575.94" fill="#7a3a30">G</text>
<text x="57.82" y="575.94" fill="#7a3a30">G</text>
<text x="63.14" y="575.94" fill="#0f4a20">T</text>
<text x="68.46" y="575.94" fill="#7a3a30">G</text>
<text x="73.78" y="575.94" fill="#5a0f08">A</text>
<text x="79.10" y="575.94" fill="#7a3a30">G</text>
<text x="84.42" y="575.94" fill="#7a3a30">G</text>
<text x="89.74" y="575.94" fill="#0f5cab">C</text>
<text x="95.06" y="575.94" fill="#5a0f08">A</text>
<text x="100.38" y="575.94" fill="#0f5cab">C</text>
<text x="105.70" y="575.94" fill="#0f5cab">C</text>
<text x="111.02" y="575.94" fill="#0f4a20">T</text>
<text x="116.34" y="575.94" fill="#0f4a20">T</text>
<text x="121.66" y="575.94" fill="#0f5cab">C</text>
<text x="126.98" y="575.94" fill="#0f4a20">T</text>
<text x="132.30" y="575.94" fill="#7a3a30">G</text>
<text x="137.62" y="575.94" fill="#5a0f08">A</text>
<text x="142.94" y="575.94" fill="#7a3a30">G</text>
<text x="148.26" y="575.94" fill="#0f4a20">T</text>
<text x="153.58" y="575.94" fill="#0f5cab">C</text>
<text x="158.90" y="575.94" fill="#0f5cab">C</text>
<text x="164.22" y="575.94" fill="#0f5cab">C</text>
<text x="169.54" y="575.94" fill="#0f5cab">C</text>
<text x="-0.70" y="584.51" fill="#7a3a30">G</text>
<text x="4.62" y="584.51" fill="#7a3a30">G</text>
<text x="9.94" y="584.51" fill="#5a0f08">A</text>
<text x="15.26" y="584.51" fill="#0f4a20">T</text>
<text x="20.58" y="584.51" fill="#7a3a30">G</text>
<text x="25.90" y="584.51" fill="#0f5cab">C</text>
<text x="31.22" y="584.51" fill="#0f4a20">T</text>
<text x="36.54" y="584.51" fill="#0f4a20">T</text>
<text x="41.86" y="584.51" fill="#0f5cab">C</text>
<text x="47.18" y="584.51" fill="#0f4a20">T</text>
<text x="52.50" y="584.51" fill="#5a0f08">A</text>
<text x="57.82" y="584.51" fill="#7a3a30">G</text>
<text x="63.14" y="584.51" fill="#7a3a30">G</text>
<text x="68.46" y="584.51" fill="#0f4a20">T</text>
<text x="73.78" y="584.51" fill="#5a0f08">A</text>
<text x="79.10" y="584.51" fill="#0f5cab">C</text>
<text x="84.42" y="584.51" fill="#0f5cab">C</text>
<text x="89.74" y="584.51" fill="#7a3a30">G</text>
<text x="95.06" y="584.51" fill="#5a0f08">A</text>
<text x="100.38" y="584.51" fill="#0f5cab">C</text>
<text x="105.70" y="584.51" fill="#0f5cab">C</text>
<text x="111.02" y="584.51" fill="#7a3a30">G</text>
<text x="116.34" y="584.51" fill="#7a3a30">G</text>
<text x="121.66" y="584.51" fill="#0f4a20">T</text>
<text x="126.98" y="584.51" fill="#0f5cab">C</text>
<text x="132.30" y="584.51" fill="#0f4a20">T</text>
<text x="137.62" y="584.51" fill="#5a0f08">A</text>
<text x="142.94" y="584.51" fill="#5a0f08">A</text>
<text x="148.26" y="584.51" fill="#7a3a30">G</text>
<text x="153.58" y="584.51" fill="#0f4a20">T</text>
<text x="158.90" y="584.51" fill="#0f4a20">T</text>
<text x="164.22" y="584.51" fill="#0f5cab">C</text>
<text x="169.54" y="584.51" fill="#0f5cab">C</text>
<text x="-0.70" y="593.08" fill="#7a3a30">G</text>
<text x="4.62" y="593.08" fill="#7a3a30">G</text>
<text x="9.94" y="593.08" fill="#5a0f08">A</text>
<text x="15.26" y="593.08" fill="#0f4a20">T</text>
<text x="20.58" y="593.08" fill="#7a3a30">G</text>
<text x="25.90" y="593.08" fill="#0f5cab">C</text>
<text x="31.22" y="593.08" fill="#0f4a20">T</text>
<text x="36.54" y="593.08" fill="#0f4a20">T</text>
<text x="41.86" y="593.08" fill="#0f5cab">C</text>
<text x="47.18" y="593.08" fill="#0f4a20">T</text>
<text x="52.50" y="593.08" fill="#7a3a30">G</text>
<text x="57.82" y="593.08" fill="#7a3a30">G</text>
<text x="63.14" y="593.08" fill="#7a3a30">G</text>
<text x="68.46" y="593.08" fill="#0f4a20">T</text>
<text x="73.78" y="593.08" fill="#5a0f08">A</text>
<text x="79.10" y="593.08" fill="#0f5cab">C</text>
<text x="84.42" y="593.08" fill="#0f5cab">C</text>
<text x="89.74" y="593.08" fill="#7a3a30">G</text>
<text x="95.06" y="593.08" fill="#7a3a30">G</text>
<text x="100.38" y="593.08" fill="#0f5cab">C</text>
<text x="105.70" y="593.08" fill="#0f5cab">C</text>
<text x="111.02" y="593.08" fill="#7a3a30">G</text>
<text x="116.34" y="593.08" fill="#7a3a30">G</text>
<text x="121.66" y="593.08" fill="#0f4a20">T</text>
<text x="126.98" y="593.08" fill="#0f5cab">C</text>
<text x="132.30" y="593.08" fill="#0f4a20">T</text>
<text x="137.62" y="593.08" fill="#5a0f08">A</text>
<text x="142.94" y="593.08" fill="#5a0f08">A</text>
<text x="148.26" y="593.08" fill="#7a3a30">G</text>
<text x="153.58" y="593.08" fill="#0f4a20">T</text>
<text x="158.90" y="593.08" fill="#0f4a20">T</text>
<text x="164.22" y="593.08" fill="#0f5cab">C</text>
<text x="169.54" y="593.08" fill="#0f5cab">C</text>
<text x="-0.70" y="601.65" fill="#7a3a30">G</text>
<text x="4.62" y="601.65" fill="#7a3a30">G</text>
<text x="9.94" y="601.65" fill="#7a3a30">G</text>
<text x="15.26" y="601.65" fill="#5a0f08">A</text>
<text x="20.58" y="601.65" fill="#0f4a20">T</text>
<text x="25.90" y="601.65" fill="#7a3a30">G</text>
<text x="31.22" y="601.65" fill="#0f5cab">C</text>
<text x="36.54" y="601.65" fill="#0f4a20">T</text>
<text x="41.86" y="601.65" fill="#0f4a20">T</text>
<text x="47.18" y="601.65" fill="#0f4a20">T</text>
<text x="52.50" y="601.65" fill="#0f4a20">T</text>
<text x="57.82" y="601.65" fill="#5a0f08">A</text>
<text x="63.14" y="601.65" fill="#7a3a30">G</text>
<text x="68.46" y="601.65" fill="#7a3a30">G</text>
<text x="73.78" y="601.65" fill="#0f5cab">C</text>
<text x="79.10" y="601.65" fill="#5a0f08">A</text>
<text x="84.42" y="601.65" fill="#7a3a30">G</text>
<text x="89.74" y="601.65" fill="#0f5cab">C</text>
<text x="95.06" y="601.65" fill="#0f5cab">C</text>
<text x="100.38" y="601.65" fill="#7a3a30">G</text>
<text x="105.70" y="601.65" fill="#0f5cab">C</text>
<text x="111.02" y="601.65" fill="#0f5cab">C</text>
<text x="116.34" y="601.65" fill="#7a3a30">G</text>
<text x="121.66" y="601.65" fill="#7a3a30">G</text>
<text x="126.98" y="601.65" fill="#0f4a20">T</text>
<text x="132.30" y="601.65" fill="#0f5cab">C</text>
<text x="137.62" y="601.65" fill="#0f4a20">T</text>
<text x="142.94" y="601.65" fill="#5a0f08">A</text>
<text x="148.26" y="601.65" fill="#5a0f08">A</text>
<text x="153.58" y="601.65" fill="#7a3a30">G</text>
<text x="158.90" y="601.65" fill="#0f4a20">T</text>
<text x="164.22" y="601.65" fill="#0f4a20">T</text>
<text x="169.54" y="601.65" fill="#0f5cab">C</text>
<text x="-0.70" y="610.22" fill="#7a3a30">G</text>
<text x="4.62" y="610.22" fill="#7a3a30">G</text>
<text x="9.94" y="610.22" fill="#5a0f08">A</text>
<text x="15.26" y="610.22" fill="#0f4a20">T</text>
<text x="20.58" y="610.22" fill="#7a3a30">G</text>
<text x="25.90" y="610.22" fill="#0f4a20">T</text>
<text x="31.22" y="610.22" fill="#0f4a20">T</text>
<text x="36.54" y="610.22" fill="#0f4a20">T</text>
<text x="41.86" y="610.22" fill="#0f5cab">C</text>
<text x="47.18" y="610.22" fill="#0f4a20">T</text>
<text x="52.50" y="610.22" fill="#7a3a30">G</text>
<text x="57.82" y="610.22" fill="#7a3a30">G</text>
<text x="63.14" y="610.22" fill="#0f5cab">C</text>
<text x="68.46" y="610.22" fill="#7a3a30">G</text>
<text x="73.78" y="610.22" fill="#0f5cab">C</text>
<text x="79.10" y="610.22" fill="#7a3a30">G</text>
<text x="84.42" y="610.22" fill="#7a3a30">G</text>
<text x="89.74" y="610.22" fill="#0f4a20">T</text>
<text x="95.06" y="610.22" fill="#7a3a30">G</text>
<text x="100.38" y="610.22" fill="#0f5cab">C</text>
<text x="105.70" y="610.22" fill="#0f5cab">C</text>
<text x="111.02" y="610.22" fill="#0f4a20">T</text>
<text x="116.34" y="610.22" fill="#0f4a20">T</text>
<text x="121.66" y="610.22" fill="#0f5cab">C</text>
<text x="126.98" y="610.22" fill="#0f5cab">C</text>
<text x="132.30" y="610.22" fill="#7a3a30">G</text>
<text x="137.62" y="610.22" fill="#5a0f08">A</text>
<text x="142.94" y="610.22" fill="#7a3a30">G</text>
<text x="148.26" y="610.22" fill="#0f4a20">T</text>
<text x="153.58" y="610.22" fill="#0f4a20">T</text>
<text x="158.90" y="610.22" fill="#0f5cab">C</text>
<text x="164.22" y="610.22" fill="#0f5cab">C</text>
<text x="169.54" y="610.22" fill="#0f5cab">C</text>
<text x="-0.70" y="618.78" fill="#0f4a20">T</text>
<text x="4.62" y="618.78" fill="#5a0f08">A</text>
<text x="9.94" y="618.78" fill="#7a3a30">G</text>
<text x="15.26" y="618.78" fill="#5a0f08">A</text>
<text x="20.58" y="618.78" fill="#7a3a30">G</text>
<text x="25.90" y="618.78" fill="#7a3a30">G</text>
<text x="31.22" y="618.78" fill="#5a0f08">A</text>
<text x="36.54" y="618.78" fill="#0f4a20">T</text>
<text x="41.86" y="618.78" fill="#7a3a30">G</text>
<text x="47.18" y="618.78" fill="#0f5cab">C</text>
<text x="52.50" y="618.78" fill="#0f4a20">T</text>
<text x="57.82" y="618.78" fill="#0f4a20">T</text>
<text x="63.14" y="618.78" fill="#0f4a20">T</text>
<text x="68.46" y="618.78" fill="#0f4a20">T</text>
<text x="73.78" y="618.78" fill="#7a3a30">G</text>
<text x="79.10" y="618.78" fill="#7a3a30">G</text>
<text x="84.42" y="618.78" fill="#0f5cab">C</text>
<text x="89.74" y="618.78" fill="#5a0f08">A</text>
<text x="95.06" y="618.78" fill="#5a0f08">A</text>
<text x="100.38" y="618.78" fill="#7a3a30">G</text>
<text x="105.70" y="618.78" fill="#7a3a30">G</text>
<text x="111.02" y="618.78" fill="#0f5cab">C</text>
<text x="116.34" y="618.78" fill="#7a3a30">G</text>
<text x="121.66" y="618.78" fill="#0f5cab">C</text>
<text x="126.98" y="618.78" fill="#0f5cab">C</text>
<text x="132.30" y="618.78" fill="#0f5cab">C</text>
<text x="137.62" y="618.78" fill="#7a3a30">G</text>
<text x="142.94" y="618.78" fill="#0f5cab">C</text>
<text x="148.26" y="618.78" fill="#0f5cab">C</text>
<text x="153.58" y="618.78" fill="#7a3a30">G</text>
<text x="158.90" y="618.78" fill="#5a0f08">A</text>
<text x="164.22" y="618.78" fill="#7a3a30">G</text>
<text x="169.54" y="618.78" fill="#0f4a20">T</text>
<text x="-0.70" y="627.35" fill="#0f5cab">C</text>
<text x="4.62" y="627.35" fill="#0f4a20">T</text>
<text x="9.94" y="627.35" fill="#5a0f08">A</text>
<text x="15.26" y="627.35" fill="#7a3a30">G</text>
<text x="20.58" y="627.35" fill="#5a0f08">A</text>
<text x="25.90" y="627.35" fill="#7a3a30">G</text>
<text x="31.22" y="627.35" fill="#7a3a30">G</text>
<text x="36.54" y="627.35" fill="#5a0f08">A</text>
<text x="41.86" y="627.35" fill="#0f4a20">T</text>
<text x="47.18" y="627.35" fill="#7a3a30">G</text>
<text x="52.50" y="627.35" fill="#0f4a20">T</text>
<text x="57.82" y="627.35" fill="#0f4a20">T</text>
<text x="63.14" y="627.35" fill="#0f4a20">T</text>
<text x="68.46" y="627.35" fill="#0f5cab">C</text>
<text x="73.78" y="627.35" fill="#7a3a30">G</text>
<text x="79.10" y="627.35" fill="#7a3a30">G</text>
<text x="84.42" y="627.35" fill="#0f5cab">C</text>
<text x="89.74" y="627.35" fill="#0f5cab">C</text>
<text x="95.06" y="627.35" fill="#5a0f08">A</text>
<text x="100.38" y="627.35" fill="#0f5cab">C</text>
<text x="105.70" y="627.35" fill="#7a3a30">G</text>
<text x="111.02" y="627.35" fill="#5a0f08">A</text>
<text x="116.34" y="627.35" fill="#0f5cab">C</text>
<text x="121.66" y="627.35" fill="#0f5cab">C</text>
<text x="126.98" y="627.35" fill="#0f5cab">C</text>
<text x="132.30" y="627.35" fill="#0f5cab">C</text>
<text x="137.62" y="627.35" fill="#7a3a30">G</text>
<text x="142.94" y="627.35" fill="#7a3a30">G</text>
<text x="148.26" y="627.35" fill="#7a3a30">G</text>
<text x="153.58" y="627.35" fill="#0f4a20">T</text>
<text x="158.90" y="627.35" fill="#0f4a20">T</text>
<text x="164.22" y="627.35" fill="#5a0f08">A</text>
<text x="169.54" y="627.35" fill="#5a0f08">A</text>
<text x="-0.70" y="635.92" fill="#0f5cab">C</text>
<text x="4.62" y="635.92" fill="#0f5cab">C</text>
<text x="9.94" y="635.92" fill="#5a0f08">A</text>
<text x="15.26" y="635.92" fill="#7a3a30">G</text>
<text x="20.58" y="635.92" fill="#5a0f08">A</text>
<text x="25.90" y="635.92" fill="#7a3a30">G</text>
<text x="31.22" y="635.92" fill="#7a3a30">G</text>
<text x="36.54" y="635.92" fill="#5a0f08">A</text>
<text x="41.86" y="635.92" fill="#0f4a20">T</text>
<text x="47.18" y="635.92" fill="#7a3a30">G</text>
<text x="52.50" y="635.92" fill="#0f5cab">C</text>
<text x="57.82" y="635.92" fill="#0f4a20">T</text>
<text x="63.14" y="635.92" fill="#0f4a20">T</text>
<text x="68.46" y="635.92" fill="#0f5cab">C</text>
<text x="73.78" y="635.92" fill="#7a3a30">G</text>
<text x="79.10" y="635.92" fill="#7a3a30">G</text>
<text x="84.42" y="635.92" fill="#7a3a30">G</text>
<text x="89.74" y="635.92" fill="#5a0f08">A</text>
<text x="95.06" y="635.92" fill="#7a3a30">G</text>
<text x="100.38" y="635.92" fill="#0f5cab">C</text>
<text x="105.70" y="635.92" fill="#7a3a30">G</text>
<text x="111.02" y="635.92" fill="#7a3a30">G</text>
<text x="116.34" y="635.92" fill="#0f4a20">T</text>
<text x="121.66" y="635.92" fill="#0f5cab">C</text>
<text x="126.98" y="635.92" fill="#0f5cab">C</text>
<text x="132.30" y="635.92" fill="#0f5cab">C</text>
<text x="137.62" y="635.92" fill="#0f5cab">C</text>
<text x="142.94" y="635.92" fill="#5a0f08">A</text>
<text x="148.26" y="635.92" fill="#0f4a20">T</text>
<text x="153.58" y="635.92" fill="#0f5cab">C</text>
<text x="158.90" y="635.92" fill="#0f4a20">T</text>
<text x="164.22" y="635.92" fill="#5a0f08">A</text>
<text x="169.54" y="635.92" fill="#5a0f08">A</text>
<text x="-0.70" y="644.49" fill="#7a3a30">G</text>
<text x="4.62" y="644.49" fill="#7a3a30">G</text>
<text x="9.94" y="644.49" fill="#5a0f08">A</text>
<text x="15.26" y="644.49" fill="#0f4a20">T</text>
<text x="20.58" y="644.49" fill="#7a3a30">G</text>
<text x="25.90" y="644.49" fill="#0f4a20">T</text>
<text x="31.22" y="644.49" fill="#0f4a20">T</text>
<text x="36.54" y="644.49" fill="#0f4a20">T</text>
<text x="41.86" y="644.49" fill="#0f5cab">C</text>
<text x="47.18" y="644.49" fill="#0f4a20">T</text>
<text x="52.50" y="644.49" fill="#7a3a30">G</text>
<text x="57.82" y="644.49" fill="#7a3a30">G</text>
<text x="63.14" y="644.49" fill="#0f5cab">C</text>
<text x="68.46" y="644.49" fill="#7a3a30">G</text>
<text x="73.78" y="644.49" fill="#0f5cab">C</text>
<text x="79.10" y="644.49" fill="#7a3a30">G</text>
<text x="84.42" y="644.49" fill="#7a3a30">G</text>
<text x="89.74" y="644.49" fill="#0f4a20">T</text>
<text x="95.06" y="644.49" fill="#7a3a30">G</text>
<text x="100.38" y="644.49" fill="#0f5cab">C</text>
<text x="105.70" y="644.49" fill="#0f5cab">C</text>
<text x="111.02" y="644.49" fill="#0f4a20">T</text>
<text x="116.34" y="644.49" fill="#0f4a20">T</text>
<text x="121.66" y="644.49" fill="#0f5cab">C</text>
<text x="126.98" y="644.49" fill="#0f5cab">C</text>
<text x="132.30" y="644.49" fill="#7a3a30">G</text>
<text x="137.62" y="644.49" fill="#5a0f08">A</text>
<text x="142.94" y="644.49" fill="#7a3a30">G</text>
<text x="148.26" y="644.49" fill="#0f4a20">T</text>
<text x="153.58" y="644.49" fill="#0f4a20">T</text>
<text x="158.90" y="644.49" fill="#0f5cab">C</text>
<text x="164.22" y="644.49" fill="#0f5cab">C</text>
<text x="169.54" y="644.49" fill="#0f5cab">C</text>
<text x="-0.70" y="653.06" fill="#0f5cab">C</text>
<text x="4.62" y="653.06" fill="#0f5cab">C</text>
<text x="9.94" y="653.06" fill="#5a0f08">A</text>
<text x="15.26" y="653.06" fill="#7a3a30">G</text>
<text x="20.58" y="653.06" fill="#5a0f08">A</text>
<text x="25.90" y="653.06" fill="#7a3a30">G</text>
<text x="31.22" y="653.06" fill="#7a3a30">G</text>
<text x="36.54" y="653.06" fill="#7a3a30">G</text>
<text x="41.86" y="653.06" fill="#0f5cab">C</text>
<text x="47.18" y="653.06" fill="#7a3a30">G</text>
<text x="52.50" y="653.06" fill="#0f5cab">C</text>
<text x="57.82" y="653.06" fill="#0f4a20">T</text>
<text x="63.14" y="653.06" fill="#0f4a20">T</text>
<text x="68.46" y="653.06" fill="#0f4a20">T</text>
<text x="73.78" y="653.06" fill="#7a3a30">G</text>
<text x="79.10" y="653.06" fill="#7a3a30">G</text>
<text x="84.42" y="653.06" fill="#0f5cab">C</text>
<text x="89.74" y="653.06" fill="#7a3a30">G</text>
<text x="95.06" y="653.06" fill="#0f4a20">T</text>
<text x="100.38" y="653.06" fill="#0f4a20">T</text>
<text x="105.70" y="653.06" fill="#5a0f08">A</text>
<text x="111.02" y="653.06" fill="#7a3a30">G</text>
<text x="116.34" y="653.06" fill="#0f5cab">C</text>
<text x="121.66" y="653.06" fill="#5a0f08">A</text>
<text x="126.98" y="653.06" fill="#7a3a30">G</text>
<text x="132.30" y="653.06" fill="#0f5cab">C</text>
<text x="137.62" y="653.06" fill="#5a0f08">A</text>
<text x="142.94" y="653.06" fill="#7a3a30">G</text>
<text x="148.26" y="653.06" fill="#0f4a20">T</text>
<text x="153.58" y="653.06" fill="#0f5cab">C</text>
<text x="158.90" y="653.06" fill="#0f5cab">C</text>
<text x="164.22" y="653.06" fill="#5a0f08">A</text>
<text x="169.54" y="653.06" fill="#5a0f08">A</text>
<text x="-0.70" y="661.63" fill="#0f5cab">C</text>
<text x="4.62" y="661.63" fill="#0f5cab">C</text>
<text x="9.94" y="661.63" fill="#5a0f08">A</text>
<text x="15.26" y="661.63" fill="#7a3a30">G</text>
<text x="20.58" y="661.63" fill="#5a0f08">A</text>
<text x="25.90" y="661.63" fill="#7a3a30">G</text>
<text x="31.22" y="661.63" fill="#7a3a30">G</text>
<text x="36.54" y="661.63" fill="#7a3a30">G</text>
<text x="41.86" y="661.63" fill="#0f5cab">C</text>
<text x="47.18" y="661.63" fill="#7a3a30">G</text>
<text x="52.50" y="661.63" fill="#0f5cab">C</text>
<text x="57.82" y="661.63" fill="#0f4a20">T</text>
<text x="63.14" y="661.63" fill="#0f4a20">T</text>
<text x="68.46" y="661.63" fill="#0f4a20">T</text>
<text x="73.78" y="661.63" fill="#7a3a30">G</text>
<text x="79.10" y="661.63" fill="#7a3a30">G</text>
<text x="84.42" y="661.63" fill="#0f5cab">C</text>
<text x="89.74" y="661.63" fill="#0f4a20">T</text>
<text x="95.06" y="661.63" fill="#0f4a20">T</text>
<text x="100.38" y="661.63" fill="#0f4a20">T</text>
<text x="105.70" y="661.63" fill="#7a3a30">G</text>
<text x="111.02" y="661.63" fill="#7a3a30">G</text>
<text x="116.34" y="661.63" fill="#0f5cab">C</text>
<text x="121.66" y="661.63" fill="#5a0f08">A</text>
<text x="126.98" y="661.63" fill="#7a3a30">G</text>
<text x="132.30" y="661.63" fill="#0f5cab">C</text>
<text x="137.62" y="661.63" fill="#7a3a30">G</text>
<text x="142.94" y="661.63" fill="#7a3a30">G</text>
<text x="148.26" y="661.63" fill="#0f4a20">T</text>
<text x="153.58" y="661.63" fill="#0f5cab">C</text>
<text x="158.90" y="661.63" fill="#0f5cab">C</text>
<text x="164.22" y="661.63" fill="#5a0f08">A</text>
<text x="169.54" y="661.63" fill="#5a0f08">A</text>
<text x="-0.70" y="670.20" fill="#7a3a30">G</text>
<text x="4.62" y="670.20" fill="#7a3a30">G</text>
<text x="9.94" y="670.20" fill="#5a0f08">A</text>
<text x="15.26" y="670.20" fill="#7a3a30">G</text>
<text x="20.58" y="670.20" fill="#5a0f08">A</text>
<text x="25.90" y="670.20" fill="#7a3a30">G</text>
<text x="31.22" y="670.20" fill="#7a3a30">G</text>
<text x="36.54" y="670.20" fill="#5a0f08">A</text>
<text x="41.86" y="670.20" fill="#0f4a20">T</text>
<text x="47.18" y="670.20" fill="#7a3a30">G</text>
<text x="52.50" y="670.20" fill="#0f4a20">T</text>
<text x="57.82" y="670.20" fill="#0f4a20">T</text>
<text x="63.14" y="670.20" fill="#0f4a20">T</text>
<text x="68.46" y="670.20" fill="#0f4a20">T</text>
<text x="73.78" y="670.20" fill="#0f4a20">T</text>
<text x="79.10" y="670.20" fill="#7a3a30">G</text>
<text x="84.42" y="670.20" fill="#7a3a30">G</text>
<text x="89.74" y="670.20" fill="#7a3a30">G</text>
<text x="95.06" y="670.20" fill="#0f4a20">T</text>
<text x="100.38" y="670.20" fill="#7a3a30">G</text>
<text x="105.70" y="670.20" fill="#0f4a20">T</text>
<text x="111.02" y="670.20" fill="#0f5cab">C</text>
<text x="116.34" y="670.20" fill="#0f5cab">C</text>
<text x="121.66" y="670.20" fill="#0f5cab">C</text>
<text x="126.98" y="670.20" fill="#7a3a30">G</text>
<text x="132.30" y="670.20" fill="#0f5cab">C</text>
<text x="137.62" y="670.20" fill="#7a3a30">G</text>
<text x="142.94" y="670.20" fill="#7a3a30">G</text>
<text x="148.26" y="670.20" fill="#0f5cab">C</text>
<text x="153.58" y="670.20" fill="#0f5cab">C</text>
<text x="158.90" y="670.20" fill="#0f4a20">T</text>
<text x="164.22" y="670.20" fill="#5a0f08">A</text>
<text x="169.54" y="670.20" fill="#5a0f08">A</text>
</g>
<!-- antibodies -->
<g fill="none" stroke-width="4.1" stroke-linecap="round" stroke-linejoin="round">
<polyline stroke="#d8433c" points="668.2,559.6 690.7,577.8 694.9,612"/>
<polyline stroke="#d8433c" points="715.3,554.2 697.5,577.4 700.9,611"/>
<polyline stroke="#f0a22e" points="663.9,564.9 685.3,581.6"/>
<polyline stroke="#f0a22e" points="720.6,558.5 704.6,578.8"/>
<polyline stroke="#d8433c" points="732.4,532.8 745.2,558.5 736.2,590.2"/>
<polyline stroke="#d8433c" points="776.3,546.1 750.6,560.7 742,591.7"/>
<polyline stroke="#f0a22e" points="725.3,536 738.2,558.9"/>
<polyline stroke="#f0a22e" points="779.9,551.7 756.6,564.3"/>
<polyline stroke="#d8433c" points="721,597.5 743.5,615.7 745.4,649.9"/>
<polyline stroke="#d8433c" points="767.3,593.8 749.5,615.2 751.9,649.5"/>
<polyline stroke="#f0a22e" points="716.3,603 736.7,620.2"/>
<polyline stroke="#f0a22e" points="773,598.1 755.9,618.4"/>
</g>
<!-- labels -->
<text x="223.1" y="48.4" textLength="114.3" lengthAdjust="spacingAndGlyphs" font-size="22.2" font-weight="700" fill="#14589b" stroke="#14589b" stroke-width="0.4">Pregnancy</text>
<text x="203.7" y="72.6" textLength="152.3" lengthAdjust="spacingAndGlyphs" font-size="19.7" fill="#1a1a1a">Placental biology</text>
<text x="186.8" y="97.1" textLength="186.9" lengthAdjust="spacingAndGlyphs" font-size="19.7" fill="#1a1a1a">In utero transmission</text>
<text x="197.0" y="120.3" textLength="166.3" lengthAdjust="spacingAndGlyphs" font-size="19.7" fill="#1a1a1a">Fetal development</text>
<text x="244.2" y="144.0" textLength="70.9" lengthAdjust="spacingAndGlyphs" font-size="19.7" fill="#1a1a1a">Tropism</text>
<text x="205.4" y="167.5" textLength="148.9" lengthAdjust="spacingAndGlyphs" font-size="19.7" fill="#1a1a1a">Vaccine/Therapy</text>
<text x="524.5" y="25.8" textLength="92.7" lengthAdjust="spacingAndGlyphs" font-size="22.2" font-weight="700" fill="#14589b" stroke="#14589b" stroke-width="0.4">Vaccines</text>
<text x="492.3" y="49.6" textLength="157.4" lengthAdjust="spacingAndGlyphs" font-size="19.7" fill="#1a1a1a">Plasmid: prM/M-E</text>
<text x="489.4" y="73.5" textLength="163.4" lengthAdjust="spacingAndGlyphs" font-size="19.7" fill="#1a1a1a">Adenovirus: prM-E</text>
<text x="529.3" y="97.7" textLength="83.5" lengthAdjust="spacingAndGlyphs" font-size="19.7" fill="#1a1a1a">Protein: E</text>
<text x="511.7" y="121.4" textLength="118.6" lengthAdjust="spacingAndGlyphs" font-size="19.7" fill="#1a1a1a">mRNA: prM-E</text>
<text x="493.7" y="145.6" textLength="154.3" lengthAdjust="spacingAndGlyphs" font-size="19.7" fill="#1a1a1a">Inactivated virion</text>
<text x="477.3" y="169.1" textLength="187.6" lengthAdjust="spacingAndGlyphs" font-size="19.7" fill="#1a1a1a">Live-attenuated virus</text>
<text x="657.5" y="266.1" textLength="143.3" lengthAdjust="spacingAndGlyphs" font-size="22.2" font-weight="700" fill="#14589b" stroke="#14589b" stroke-width="0.4">Pathogenesis</text>
<text x="674.9" y="290.0" textLength="107.3" lengthAdjust="spacingAndGlyphs" font-size="19.7" fill="#1a1a1a">CNS disease</text>
<text x="656.3" y="314.2" textLength="144.7" lengthAdjust="spacingAndGlyphs" font-size="19.7" fill="#1a1a1a">Viral persistence</text>
<text x="662.8" y="337.3" textLength="132.2" lengthAdjust="spacingAndGlyphs" font-size="19.7" fill="#1a1a1a">Testis infection</text>
<text x="672.0" y="362.2" textLength="113.8" lengthAdjust="spacingAndGlyphs" font-size="19.7" fill="#1a1a1a">Eye infection</text>
<text x="662.3" y="385.9" textLength="133.2" lengthAdjust="spacingAndGlyphs" font-size="19.7" fill="#1a1a1a">Sanctuary sites</text>
<text x="644.2" y="409.9" textLength="169.4" lengthAdjust="spacingAndGlyphs" font-size="19.7" fill="#1a1a1a">Immune restriction</text>
<text x="693.8" y="433.6" textLength="70.9" lengthAdjust="spacingAndGlyphs" font-size="19.7" fill="#1a1a1a">Tropism</text>
<text x="641.8" y="457.4" textLength="174.3" lengthAdjust="spacingAndGlyphs" font-size="19.7" fill="#1a1a1a">Neurodevelopment</text>
<text x="630.8" y="481.6" textLength="196.9" lengthAdjust="spacingAndGlyphs" font-size="19.7" fill="#1a1a1a">Immunopathogenesis</text>
<text x="-0.3" y="312.5" textLength="212.8" lengthAdjust="spacingAndGlyphs" font-size="22.2" font-weight="700" fill="#14589b" stroke="#14589b" stroke-width="0.4">Sexual transmission</text>
<text x="11.3" y="336.9" textLength="189.6" lengthAdjust="spacingAndGlyphs" font-size="19.7" fill="#1a1a1a">Intravaginal infection</text>
<text x="12.5" y="360.4" textLength="187.2" lengthAdjust="spacingAndGlyphs" font-size="19.7" fill="#1a1a1a">Effects on pregnancy</text>
<text x="10.4" y="384.2" textLength="190.8" lengthAdjust="spacingAndGlyphs" font-size="19.7" fill="#1a1a1a">Window of infectivity</text>
<text x="22.9" y="407.5" textLength="165.8" lengthAdjust="spacingAndGlyphs" font-size="19.7" fill="#1a1a1a">Vaccine protection</text>
<text x="180.5" y="576.3" textLength="199.4" lengthAdjust="spacingAndGlyphs" font-size="22.2" font-weight="700" fill="#14589b" stroke="#14589b" stroke-width="0.4">Viral determinants</text>
<text x="220.9" y="600.8" textLength="118.5" lengthAdjust="spacingAndGlyphs" font-size="19.7" fill="#1a1a1a">Pathogenesis</text>
<text x="187.1" y="624.8" textLength="186.2" lengthAdjust="spacingAndGlyphs" font-size="19.7" fill="#1a1a1a">Genetics of virulence</text>
<text x="237.7" y="648.5" textLength="84.4" lengthAdjust="spacingAndGlyphs" font-size="19.7" fill="#1a1a1a">Evolution</text>
<text x="182.6" y="671.9" textLength="194.7" lengthAdjust="spacingAndGlyphs" font-size="19.7" fill="#1a1a1a">Immune/Drug escape</text>
<text x="501.1" y="576.4" textLength="140.0" lengthAdjust="spacingAndGlyphs" font-size="22.2" font-weight="700" fill="#14589b" stroke="#14589b" stroke-width="0.4">Therapeutics</text>
<text x="489.2" y="600.5" textLength="163.5" lengthAdjust="spacingAndGlyphs" font-size="19.7" fill="#1a1a1a">Human antibodies</text>
<text x="471.8" y="624.7" textLength="198.2" lengthAdjust="spacingAndGlyphs" font-size="19.7" fill="#1a1a1a">FDA drug repurposing</text>
<text x="450.4" y="648.6" textLength="241.7" lengthAdjust="spacingAndGlyphs" font-size="19.7" fill="#1a1a1a">HCV drugs (e.g. Sofosbuvir)</text>
<text x="308.5" y="443.8" textLength="244.3" lengthAdjust="spacingAndGlyphs" font-size="22.4" fill="#1a1a1a">Utlility of Animal Models</text>
<text x="323.9" y="469.3" textLength="213.6" lengthAdjust="spacingAndGlyphs" font-size="22.4" fill="#1a1a1a">of Zika Virus Infection</text>
</svg>
</body></html>
